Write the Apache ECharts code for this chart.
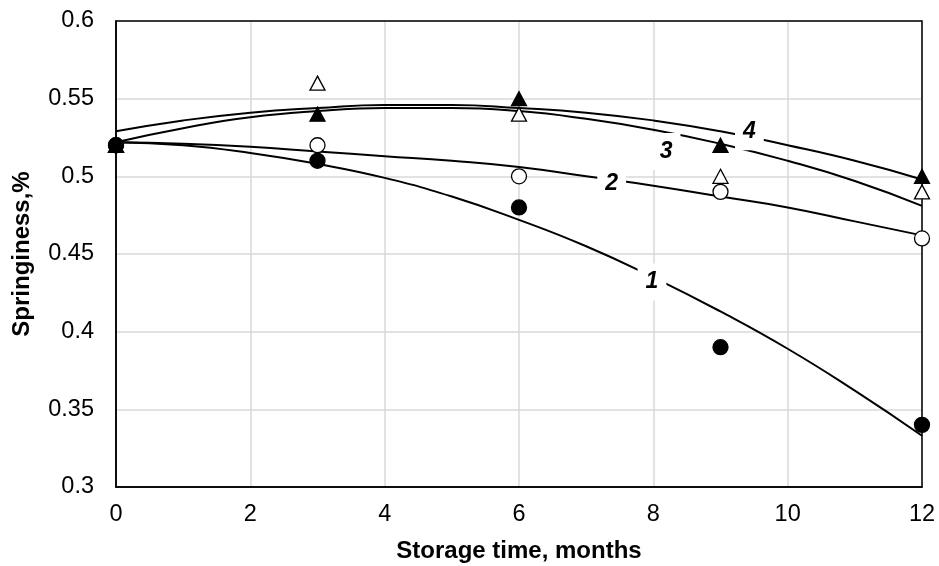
<!DOCTYPE html>
<html>
<head>
<meta charset="utf-8">
<script src="https://cdn.jsdelivr.net/npm/echarts@6/dist/echarts.min.js"></script>
<style>
  html, body { margin: 0; padding: 0; background: #fff; }
  #chart { width: 939px; height: 566px; }
</style>
</head>
<body>
<div id="chart"></div>
<script>
// measured points (storage time, months)
var months = [0, 3, 6, 9, 12];
var pts1 = [0.52, 0.51, 0.48, 0.39, 0.34];   // filled circles
var pts2 = [0.52, 0.52, 0.50, 0.49, 0.46];   // open circles
var pts3 = [0.52, 0.56, 0.54, 0.50, 0.49];   // open triangles
var pts4 = [0.52, 0.54, 0.55, 0.52, 0.50];   // filled triangles

// trend curves at each month
var curveX = [0, 1, 2, 3, 4, 5, 6, 7, 8, 9, 10, 11, 12];
var curve1 = [0.522, 0.520, 0.515, 0.508, 0.499, 0.487, 0.472, 0.455, 0.435, 0.413, 0.389, 0.362, 0.333];
var curve2 = [0.522, 0.521, 0.519, 0.516, 0.513, 0.510, 0.506, 0.500, 0.494, 0.487, 0.480, 0.471, 0.462];
var curve3 = [0.522, 0.531, 0.538, 0.542, 0.544, 0.544, 0.542, 0.537, 0.530, 0.521, 0.510, 0.497, 0.481];
var curve4 = [0.529, 0.536, 0.541, 0.544, 0.546, 0.546, 0.544, 0.541, 0.536, 0.529, 0.520, 0.510, 0.498];

// curve numbers
var labelNames = ['1', '2', '3', '4'];
var labelX = [7.98, 7.38, 8.19, 9.43];
var labelY = [0.432, 0.4955, 0.516, 0.5287];

var FONT = 'Liberation Sans';

function pairs(xs, ys) {
  return xs.map(function (x, i) { return [x, ys[i]]; });
}

function curve(ys) {
  return {
    type: 'line', data: pairs(curveX, ys), smooth: true, symbol: 'none',
    lineStyle: { color: '#000', width: 2 }, z: 2, silent: true
  };
}

function points(ys, shape, fill) {
  return {
    type: 'scatter', data: pairs(months, ys), symbol: shape,
    symbolSize: shape === 'circle' ? 15 : [15, 14],
    itemStyle: { color: fill, borderColor: '#000', borderWidth: 1.3, opacity: 1 },
    z: 4
  };
}

var myChart = echarts.init(document.getElementById('chart'));
var option = {
  backgroundColor: '#fff',
  animation: false,
  grid: { left: 116, right: 17, top: 21, bottom: 79, containLabel: false, outerBoundsMode: 'none' },
  xAxis: {
    type: 'value', min: 0, max: 12, interval: 2,
    name: 'Storage time, months', nameLocation: 'middle', nameGap: 52,
    nameTextStyle: { fontFamily: FONT, fontWeight: 'bold', fontSize: 24, color: '#000' },
    axisLine: { lineStyle: { color: '#000', width: 1.5 } },
    axisTick: { show: false },
    axisLabel: { fontFamily: FONT, fontSize: 23.5, color: '#000', margin: 16 },
    splitLine: { lineStyle: { color: '#d9d9d9', width: 1.5 } }
  },
  yAxis: {
    type: 'value', min: 0.3, max: 0.6, interval: 0.05,
    name: 'Springiness,%', nameLocation: 'middle', nameGap: 82,
    nameTextStyle: { fontFamily: FONT, fontWeight: 'bold', fontSize: 24, color: '#000' },
    axisLine: { show: true, lineStyle: { color: '#000', width: 1.5 } },
    axisTick: { show: false },
    axisLabel: {
      fontFamily: FONT, fontSize: 23.5, color: '#000', margin: 22,
      formatter: function (v) { return String(parseFloat(v.toFixed(2))); }
    },
    splitLine: { lineStyle: { color: '#d9d9d9', width: 1.5 } }
  },
  series: [
    curve(curve1), curve(curve2), curve(curve3), curve(curve4),
    {
      type: 'scatter', symbolSize: 0, z: 3, silent: true,
      itemStyle: { opacity: 1 },
      data: labelNames.map(function (n, i) { return { value: [labelX[i], labelY[i]], name: n }; }),
      label: {
        show: true, position: 'inside', formatter: '{b}',
        fontFamily: FONT, fontWeight: 'bold', fontStyle: 'italic',
        fontSize: 23, color: '#000', backgroundColor: '#fff', padding: [7, 8],
        opacity: 1
      }
    },
    points(pts2, 'circle', '#fff'),
    points(pts3, 'triangle', '#fff'),
    points(pts1, 'circle', '#000'),
    points(pts4, 'triangle', '#000')
  ]
};
if (option && typeof option === "object") {
  myChart.setOption(option, true);
}
// box around the plot area (top and right edges)
var r = myChart.getModel().getComponent('grid').coordinateSystem.getRect();
myChart.setOption({
  graphic: [{
    type: 'rect', shape: { x: r.x, y: r.y, width: r.width, height: r.height },
    style: { fill: 'none', stroke: '#000', lineWidth: 1.5 }, silent: true, z: 1
  }]
});
</script>
</body>
</html>
